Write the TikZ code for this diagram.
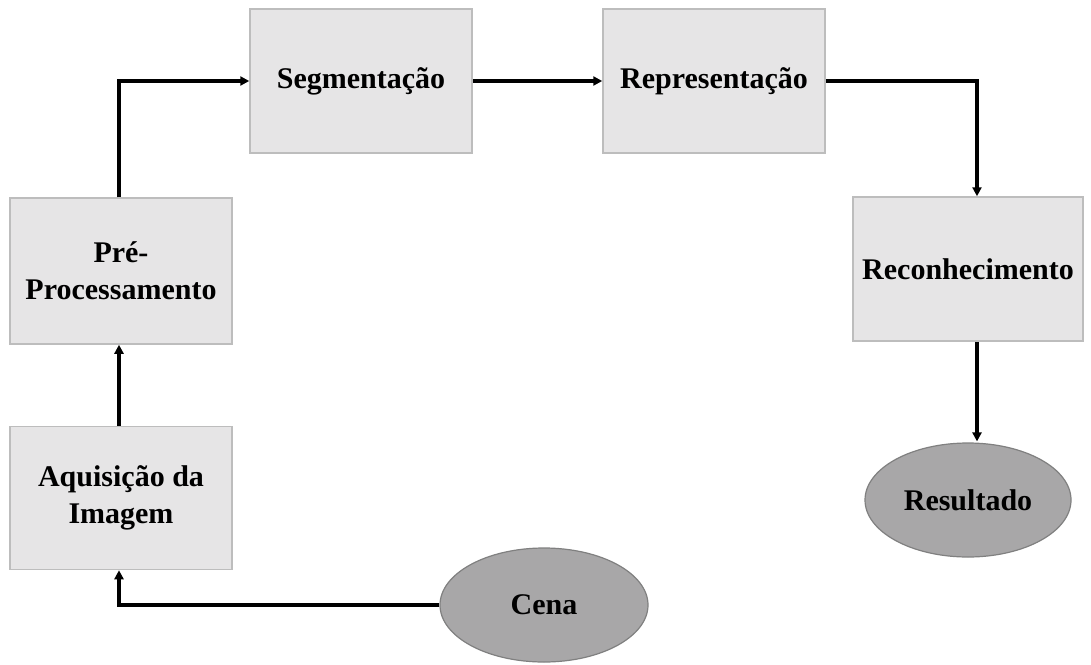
\documentclass[tikz,border=0pt]{standalone}
\usepackage{fontspec}
\setmainfont{Liberation Serif}
\usetikzlibrary{arrows.meta,shapes.geometric}
\definecolor{boxfill}{HTML}{E6E5E6}
\definecolor{boxline}{HTML}{BDBDBD}
\definecolor{ovalfill}{HTML}{A8A7A8}
\definecolor{ovalline}{HTML}{808080}
\begin{document}
\begin{tikzpicture}[x=1pt,y=-1pt,
  stage/.style={draw=boxline,line width=1.5pt,fill=boxfill,minimum width=222pt,minimum height=144pt,
    inner sep=0pt,align=center,font=\fontsize{30}{37}\selectfont\bfseries},
  terminal/.style={ellipse,draw=ovalline,line width=1.2pt,fill=ovalfill,minimum width=208pt,minimum height=114pt,
    inner sep=0pt,font=\fontsize{30}{37}\selectfont\bfseries},
  flow/.style={line width=3.4pt,-{Triangle[length=9pt,width=9pt]}}]
\useasboundingbox[fill=white] (0,0) rectangle (1091,664);

\node[stage] (seg) at (361,81) {Segmentação};
\node[stage] (rep) at (714,81) {Representação};
\node[stage,minimum height=146pt] (pre) at (121,271) {Pré-\\Processamento};
\node[stage,minimum height=143pt] (aq) at (121,498) {Aquisição da\\Imagem};
\node[stage,minimum width=230pt] (rec) at (968,269) {Reconhecimento};
\node[terminal] (cena) at (544,605) {Cena};
\node[terminal,minimum width=206pt] (res) at (968,500) {Resultado};

\draw[flow] (cena.west) -| ([xshift=-2pt]aq.south);
\draw[flow] ([xshift=-2pt]aq.north) -- ([xshift=-2pt]pre.south);
\draw[flow] ([xshift=-2pt]pre.north) |- (seg.west);
\draw[flow] (seg.east) -- (rep.west);
\draw[flow] (rep.east) -| ([xshift=9pt]rec.north);
\draw[flow] ([xshift=9pt]rec.south) -- ([xshift=9pt,yshift=1pt]res.north);
\end{tikzpicture}
\end{document}
